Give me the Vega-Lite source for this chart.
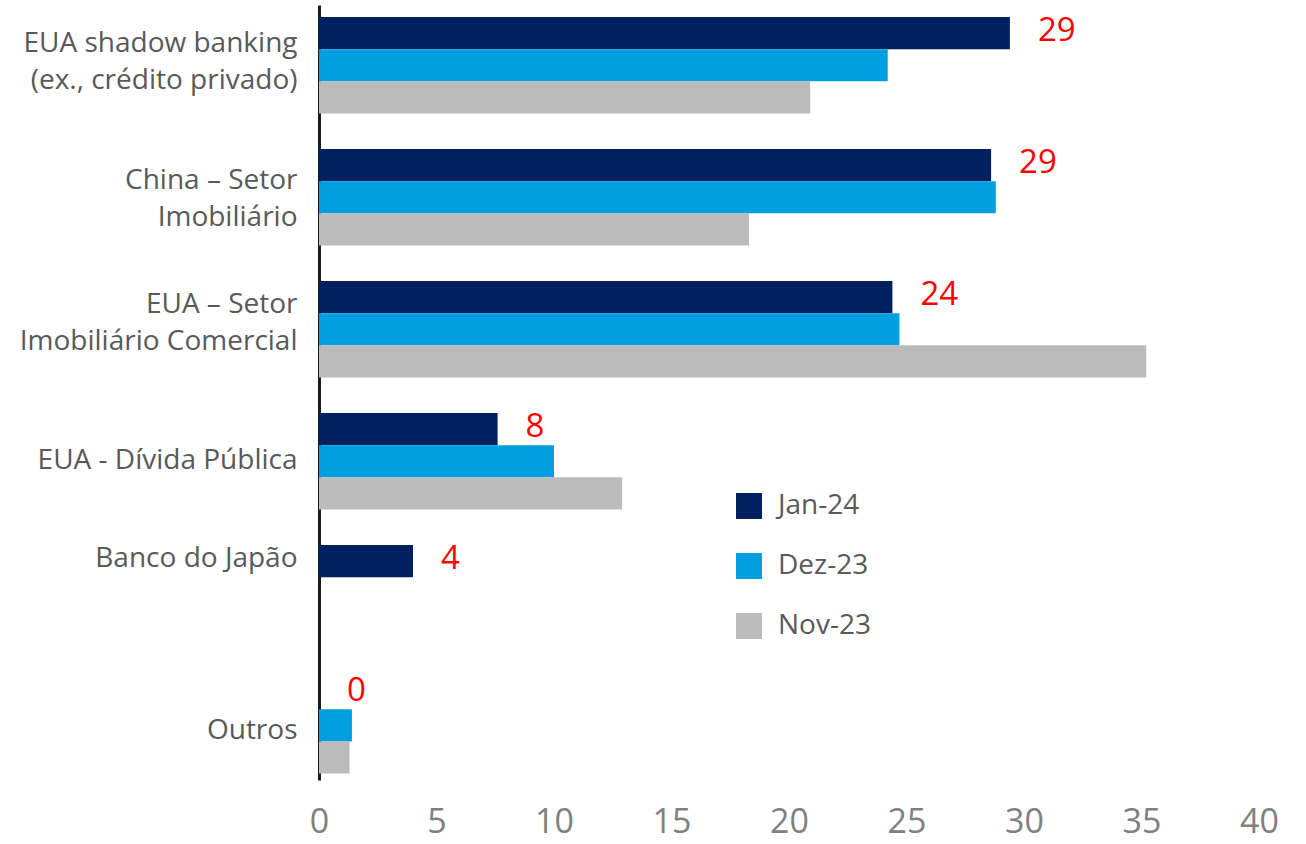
{
  "$schema": "https://vega.github.io/schema/vega-lite/v6.json",
  "width": 940,
  "height": 775,
  "autosize": {"type": "none"},
  "padding": {"left": 319, "top": 5, "right": 47, "bottom": 64},
  "background": "white",
  "config": {"view": {"stroke": null}, "font": "Open Sans"},
  "data": {
    "values": [
      {"cat": "EUA shadow banking\n(ex., crédito privado)", "series": "Jan-24", "value": 29.4},
      {"cat": "EUA shadow banking\n(ex., crédito privado)", "series": "Dez-23", "value": 24.2},
      {"cat": "EUA shadow banking\n(ex., crédito privado)", "series": "Nov-23", "value": 20.9},
      {"cat": "China – Setor\nImobiliário", "series": "Jan-24", "value": 28.6},
      {"cat": "China – Setor\nImobiliário", "series": "Dez-23", "value": 28.8},
      {"cat": "China – Setor\nImobiliário", "series": "Nov-23", "value": 18.3},
      {"cat": "EUA – Setor\nImobiliário Comercial", "series": "Jan-24", "value": 24.4},
      {"cat": "EUA – Setor\nImobiliário Comercial", "series": "Dez-23", "value": 24.7},
      {"cat": "EUA – Setor\nImobiliário Comercial", "series": "Nov-23", "value": 35.2},
      {"cat": "EUA - Dívida Pública", "series": "Jan-24", "value": 7.6},
      {"cat": "EUA - Dívida Pública", "series": "Dez-23", "value": 10.0},
      {"cat": "EUA - Dívida Pública", "series": "Nov-23", "value": 12.9},
      {"cat": "Banco do Japão", "series": "Jan-24", "value": 4.0},
      {"cat": "Banco do Japão", "series": "Dez-23", "value": 0},
      {"cat": "Banco do Japão", "series": "Nov-23", "value": 0},
      {"cat": "Outros", "series": "Jan-24", "value": 0},
      {"cat": "Outros", "series": "Dez-23", "value": 1.4},
      {"cat": "Outros", "series": "Nov-23", "value": 1.3}
    ]
  },
  "encoding": {
    "y": {
      "field": "cat",
      "type": "nominal",
      "sort": null,
      "scale": {"paddingInner": 0.27, "paddingOuter": 0.07, "align": 0.65},
      "axis": {
        "title": null,
        "domain": true,
        "domainColor": "#1a1a1a",
        "domainWidth": 3,
        "ticks": false,
        "grid": false,
        "labelFontSize": 28,
        "labelColor": "#595959",
        "labelPadding": 22,
        "labelLineHeight": 37,
        "labelLimit": 400,
        "labelExpr": "split(datum.label, '\\n')",
        "labelOffset": {
          "condition": [
            {"test": "indexof(datum.value, 'shadow') >= 0", "value": -21},
            {"test": "indexof(datum.value, 'China') >= 0", "value": -16},
            {"test": "indexof(datum.value, 'Comercial') >= 0", "value": -24},
            {"test": "datum.value === 'Banco do Japão'", "value": -34},
            {"test": "datum.value === 'Outros'", "value": 6}
          ],
          "value": 0
        }
      }
    },
    "yOffset": {"field": "series", "type": "nominal", "scale": {"domain": ["Jan-24", "Dez-23", "Nov-23"]}},
    "x": {
      "field": "value",
      "type": "quantitative",
      "scale": {"domain": [0, 40], "nice": false},
      "axis": {
        "title": null,
        "domain": false,
        "ticks": false,
        "grid": false,
        "values": [0, 5, 10, 15, 20, 25, 30, 35, 40],
        "labelFontSize": 34,
        "labelColor": "#808080",
        "labelPadding": 25,
        "labelFlush": false
      }
    }
  },
  "layer": [
    {
      "mark": {"type": "bar"},
      "encoding": {
        "color": {
          "field": "series",
          "type": "nominal",
          "scale": {"domain": ["Jan-24", "Dez-23", "Nov-23"], "range": ["#002060", "#009FDF", "#BBBBBB"]},
          "legend": {
            "title": null,
            "orient": "none",
            "legendX": 416,
            "legendY": 487,
            "symbolType": "square",
            "symbolSize": 676,
            "symbolStrokeWidth": 0,
            "symbolOpacity": 1,
            "labelFontSize": 28,
            "labelColor": "#595959",
            "labelOffset": 15,
            "rowPadding": 32,
            "padding": 0
          }
        }
      }
    },
    {
      "transform": [{"filter": "datum.series === 'Jan-24'"}],
      "mark": {"type": "text", "align": "left", "baseline": "middle", "dx": 28, "dy": -2, "fontSize": 33, "color": "#FF0000"},
      "encoding": {"text": {"field": "value", "type": "quantitative", "format": ".0f"}}
    }
  ]
}
